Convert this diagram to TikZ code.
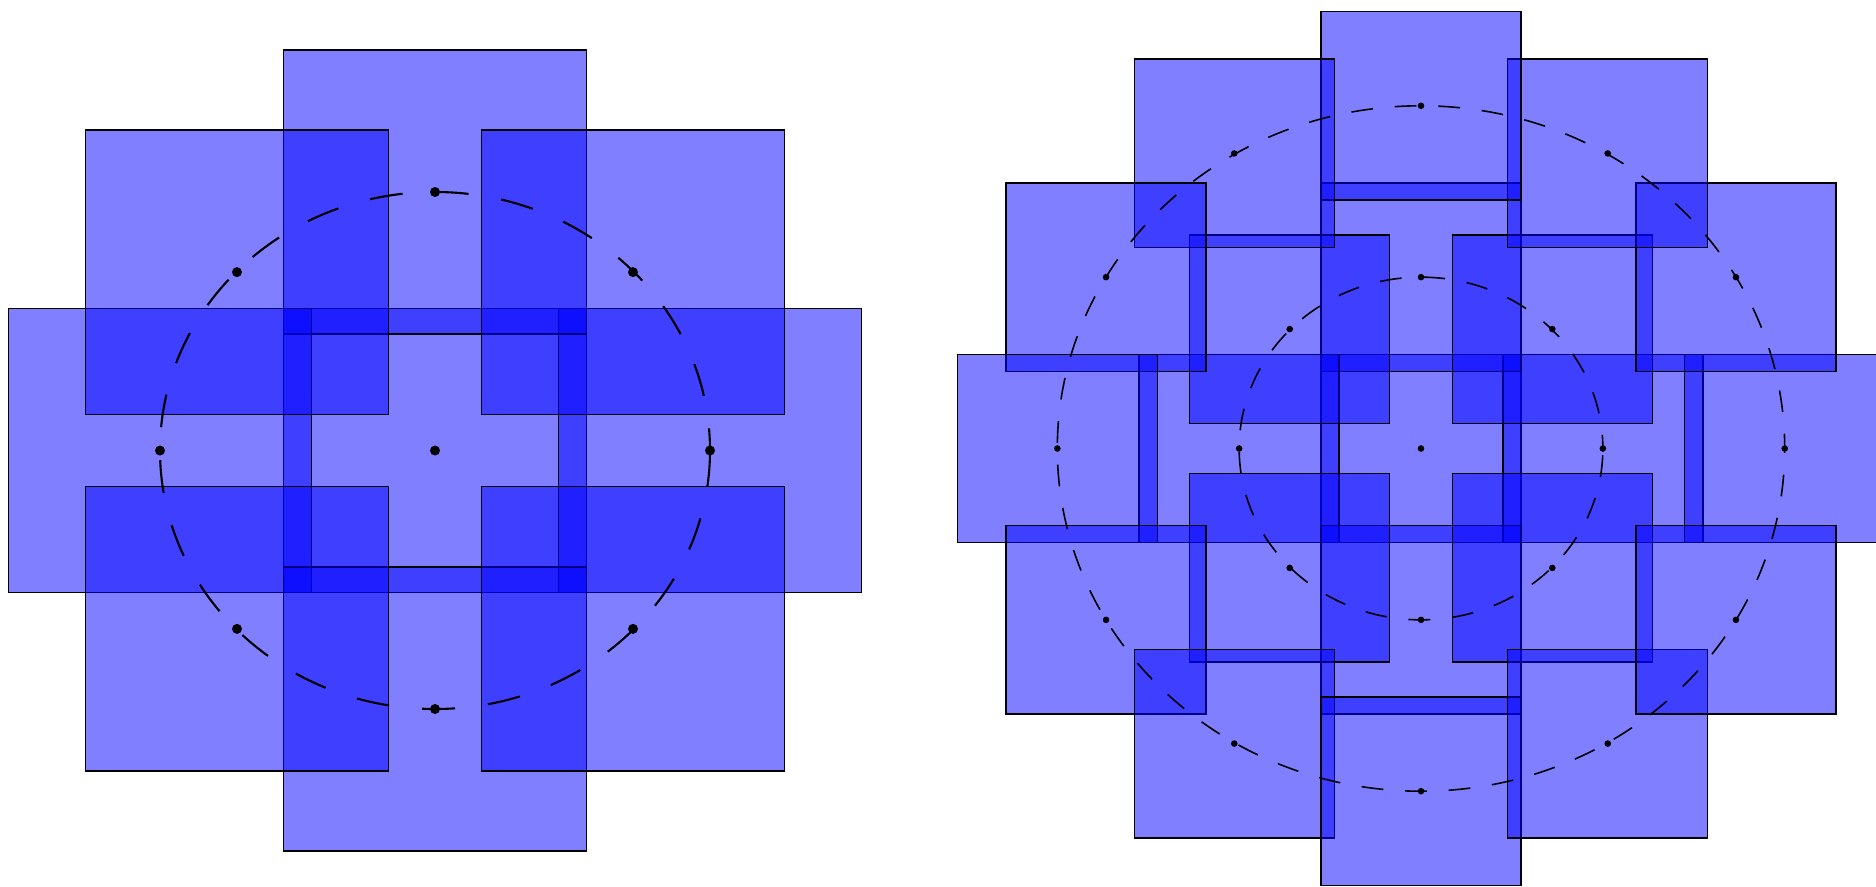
\documentclass[tikz,border=0pt]{standalone}
\usepackage{tikz}

\begin{document}
\begin{tikzpicture}[
    sq/.style={draw=black, line width=.4pt, fill=blue, fill opacity=.5},
    ring/.style={draw=black, line width=.6pt, dash pattern=on 9.4pt off 9.4pt, dash phase=3.1pt},
    ringsmall/.style={draw=black, line width=.45pt, dash pattern=on 6.2pt off 6.2pt, dash phase=2.3pt}]
\useasboundingbox (0,0) rectangle (18.76,-8.86);
\clip (0,0) rectangle (18.76,-8.86);

% left: eight squares on one circle
\begin{scope}[shift={(4.35,-4.505)}, x=2.75cm, y=2.585cm]
\draw[sq] (0,0) ++(-.55,-.55) rectangle ++(1.1,1.1);
\draw[sq] (1,0) ++(-.55,-.55) rectangle ++(1.1,1.1);
\draw[sq] (0,1) ++(-.55,-.55) rectangle ++(1.1,1.1);
\draw[sq] (-1,0) ++(-.55,-.55) rectangle ++(1.1,1.1);
\draw[sq] (0,-1) ++(-.55,-.55) rectangle ++(1.1,1.1);
\draw[sq] (.72,.69) ++(-.55,-.55) rectangle ++(1.1,1.1);
\draw[sq] (-.72,.69) ++(-.55,-.55) rectangle ++(1.1,1.1);
\draw[sq] (-.72,-.69) ++(-.55,-.55) rectangle ++(1.1,1.1);
\draw[sq] (.72,-.69) ++(-.55,-.55) rectangle ++(1.1,1.1);
\draw[ring] (0,0) circle[radius=1];
\fill (0,0) circle[radius=.05cm];
\fill (1,0) circle[radius=.05cm];
\fill (.72,.69) circle[radius=.05cm];
\fill (0,1) circle[radius=.05cm];
\fill (-.72,.69) circle[radius=.05cm];
\fill (-1,0) circle[radius=.05cm];
\fill (-.72,-.69) circle[radius=.05cm];
\fill (0,-1) circle[radius=.05cm];
\fill (.72,-.69) circle[radius=.05cm];
\end{scope}

% right: inner ring of eight, outer ring of twelve
\begin{scope}[shift={(14.21,-4.485)}, x=1.8185cm, y=1.7135cm]
\draw[sq] (0,0) ++(-.55,-.55) rectangle ++(1.1,1.1);
\draw[sq] (1,0) ++(-.55,-.55) rectangle ++(1.1,1.1);
\draw[sq] (0,1) ++(-.55,-.55) rectangle ++(1.1,1.1);
\draw[sq] (-1,0) ++(-.55,-.55) rectangle ++(1.1,1.1);
\draw[sq] (0,-1) ++(-.55,-.55) rectangle ++(1.1,1.1);
\draw[sq] (.722,.697) ++(-.55,-.55) rectangle ++(1.1,1.1);
\draw[sq] (-.722,.697) ++(-.55,-.55) rectangle ++(1.1,1.1);
\draw[sq] (-.722,-.697) ++(-.55,-.55) rectangle ++(1.1,1.1);
\draw[sq] (.722,-.697) ++(-.55,-.55) rectangle ++(1.1,1.1);
\draw[sq] (2,0) ++(-.55,-.55) rectangle ++(1.1,1.1);
\draw[sq] (1.732,1) ++(-.55,-.55) rectangle ++(1.1,1.1);
\draw[sq] (1.027,1.722) ++(-.55,-.55) rectangle ++(1.1,1.1);
\draw[sq] (0,2) ++(-.55,-.55) rectangle ++(1.1,1.1);
\draw[sq] (-1.027,1.722) ++(-.55,-.55) rectangle ++(1.1,1.1);
\draw[sq] (-1.732,1) ++(-.55,-.55) rectangle ++(1.1,1.1);
\draw[sq] (-2,0) ++(-.55,-.55) rectangle ++(1.1,1.1);
\draw[sq] (-1.732,-1) ++(-.55,-.55) rectangle ++(1.1,1.1);
\draw[sq] (-1.027,-1.722) ++(-.55,-.55) rectangle ++(1.1,1.1);
\draw[sq] (0,-2) ++(-.55,-.55) rectangle ++(1.1,1.1);
\draw[sq] (1.027,-1.722) ++(-.55,-.55) rectangle ++(1.1,1.1);
\draw[sq] (1.732,-1) ++(-.55,-.55) rectangle ++(1.1,1.1);
\draw[ringsmall] (0,0) circle[radius=1];
\draw[ringsmall, dash phase=2pt] (0,0) circle[radius=2];
\fill (0,0) circle[radius=.033cm];
\fill (1,0) circle[radius=.033cm];
\fill (.722,.697) circle[radius=.033cm];
\fill (0,1) circle[radius=.033cm];
\fill (-.722,.697) circle[radius=.033cm];
\fill (-1,0) circle[radius=.033cm];
\fill (-.722,-.697) circle[radius=.033cm];
\fill (0,-1) circle[radius=.033cm];
\fill (.722,-.697) circle[radius=.033cm];
\fill (2,0) circle[radius=.033cm];
\fill (1.732,1) circle[radius=.033cm];
\fill (1.027,1.722) circle[radius=.033cm];
\fill (0,2) circle[radius=.033cm];
\fill (-1.027,1.722) circle[radius=.033cm];
\fill (-1.732,1) circle[radius=.033cm];
\fill (-2,0) circle[radius=.033cm];
\fill (-1.732,-1) circle[radius=.033cm];
\fill (-1.027,-1.722) circle[radius=.033cm];
\fill (0,-2) circle[radius=.033cm];
\fill (1.027,-1.722) circle[radius=.033cm];
\fill (1.732,-1) circle[radius=.033cm];
\end{scope}
\end{tikzpicture}
\end{document}
